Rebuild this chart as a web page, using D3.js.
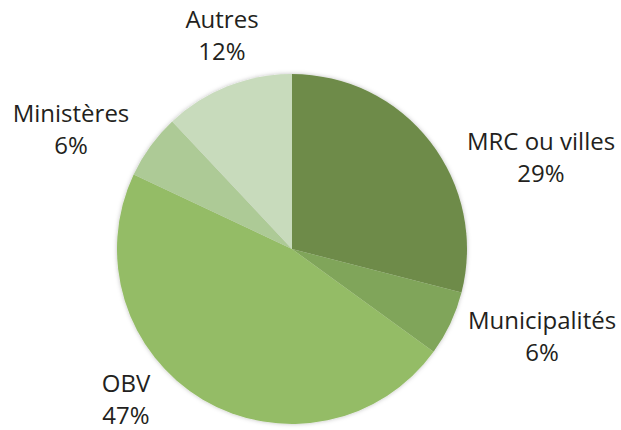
<!DOCTYPE html>
<html>
<head>
<meta charset="utf-8">
<script src="https://cdn.jsdelivr.net/npm/d3@7"></script>
<style>
  body { margin: 0; background: #fff; }
  text { font-family: "Open Sans", "Noto Sans", sans-serif; fill: #231f20; }
</style>
</head>
<body>
<div id="wrapper"></div>
<script>
// données du graphique
const categories = ["MRC ou villes", "Municipalités", "OBV", "Ministères", "Autres"]
const values = [29, 6, 47, 6, 12]
const colors = ["#6e8b4a", "#80a55a", "#94bc66", "#adca96", "#c8dbbc"]

// position des étiquettes (milieu entre les deux lignes, relatif au centre de la tarte)
const labelOffsets = [[249, -83], [250, 96], [-166, 159], [-221, -111], [-70, -205]]

function drawPie() {
  const dimensions = {
    width: 621,
    height: 430,
    cx: 292,
    cy: 249,
    radius: 175,
  }

  const svg = d3.select("#wrapper")
    .append("svg")
      .attr("width", dimensions.width)
      .attr("height", dimensions.height)

  // ombre légère autour de la tarte
  const defs = svg.append("defs")
  const filter = defs.append("filter")
      .attr("id", "shadow")
      .attr("x", "-10%").attr("y", "-10%")
      .attr("width", "120%").attr("height", "120%")
  filter.append("feDropShadow")
      .attr("dx", 0)
      .attr("dy", 0)
      .attr("stdDeviation", 2)
      .attr("flood-color", "#000")
      .attr("flood-opacity", 0.25)

  const bounds = svg.append("g")
      .attr("transform", `translate(${dimensions.cx}, ${dimensions.cy})`)

  const dataset = categories.map((c, i) => ({ category: c, value: values[i], color: colors[i] }))

  const pie = d3.pie()
    .value(d => d.value)
    .sort(null)
    .startAngle(0)
    .endAngle(2 * Math.PI)

  const arcGenerator = d3.arc()
    .innerRadius(0)
    .outerRadius(dimensions.radius)

  const slices = bounds.append("g")
      .attr("filter", "url(#shadow)")

  slices.selectAll("path")
    .data(pie(dataset))
    .join("path")
      .attr("d", arcGenerator)
      .attr("fill", d => d.data.color)

  // étiquettes
  const labels = bounds.selectAll("g.label")
    .data(dataset)
    .join("g")
      .attr("class", "label")
      .attr("transform", (d, i) => `translate(${labelOffsets[i][0]}, ${labelOffsets[i][1]})`)

  labels.append("text")
      .attr("text-anchor", "middle")
      .attr("y", -16)
      .style("font-size", "24px")
      .text(d => d.category)

  labels.append("text")
      .attr("text-anchor", "middle")
      .attr("y", 16)
      .style("font-size", "24px")
      .text(d => d.value + "%")
}

drawPie()
</script>
</body>
</html>
